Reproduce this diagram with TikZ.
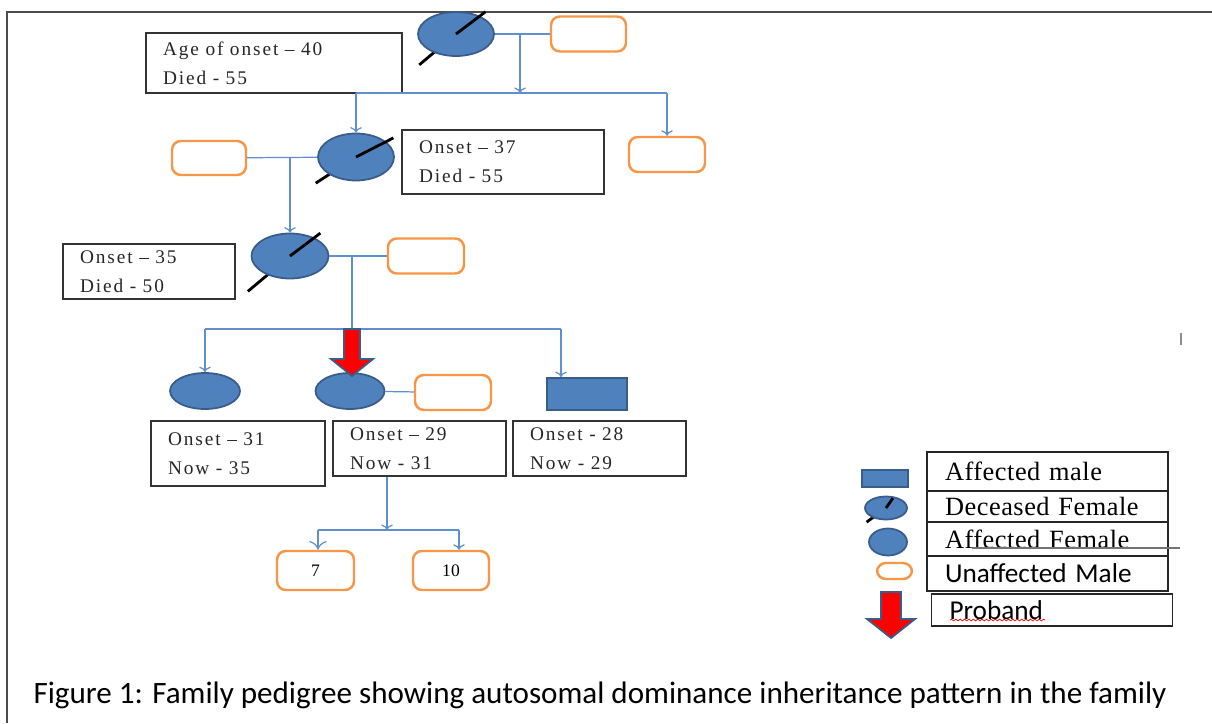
\documentclass[tikz,border=0pt]{standalone}
\usepackage{fontspec}
\setmainfont{Liberation Serif}
\newfontfamily\infofont[LetterSpace=10]{Liberation Serif}
\newfontfamily\legfont[LetterSpace=2]{Liberation Serif}
\newfontfamily\capfont{Carlito}
\usetikzlibrary{arrows,arrows.meta,shapes}
\usetikzlibrary{calc}
\usetikzlibrary{decorations.pathmorphing}
\definecolor{affblue}{RGB}{79,129,189}
\definecolor{affborder}{RGB}{56,93,138}
\definecolor{unafforange}{RGB}{247,150,70}
\definecolor{linkblue}{RGB}{96,143,207}
\tikzstyle{female}=[ellipse,fill=affblue,draw=affborder,line width=1pt,inner sep=0pt]
\tikzstyle{male}=[rectangle,fill=affblue,draw=affborder,line width=1pt,inner sep=0pt]
\tikzstyle{unaffected}=[rectangle,rounded corners=5pt,draw=unafforange,line width=1.4pt,fill=white,inner sep=0pt,font=\fontsize{10}{12}\selectfont]
\tikzstyle{info}=[rectangle,draw=black!80,line width=0.9pt,align=left,inner xsep=0.34cm,inner ysep=0pt,text=black!85,font=\infofont\fontsize{11}{16.4}\selectfont]
\tikzstyle{legend}=[rectangle,draw=black!85,line width=0.9pt,align=left,inner xsep=0.36cm,inner ysep=0pt]
\tikzstyle{edge} = [draw,->,linkblue,line width=0.7pt]
\tikzstyle{link} = [draw,linkblue,line width=0.7pt]
\tikzstyle{slash} = [draw,black,line width=1.6pt]
\tikzstyle{proband} = [fill=red,draw=affborder,line width=1pt]

\begin{document}
\begin{tikzpicture}[x=0.02cm,y=0.02cm]
    \useasboundingbox (0,0) rectangle (1212,-723);
    \draw[black!70,line width=1.1pt] (7,-723) -- (7,-12) -- (1212,-12);

    % deceased females, the slash half behind the shape
    \foreach \pos/\name/\w/\h/\a/\ra/\b/\rb in {{(456,-34)/g1/1.52/0.88/37/37/220/48},
        {(356,-157)/g2/1.52/0.94/27/42/213/48}, {(290,-256)/g3/1.54/0.90/37/38/220/55},
        {(886,-508)/ld/0.84/0.46/55/12/216/24}} {
        \draw[slash] \pos ++(\b:\rb) -- \pos;
        \node[female,minimum width=\w cm,minimum height=\h cm] (\name) at \pos {};
        \draw[slash] (\name.center) -- +(\a:\ra);
    }

    % affected females and males
    \foreach \pos/\name/\w/\h in {{(205,-391)/d1/1.40/0.72},{(350,-391)/d2/1.38/0.72},{(888,-542)/lf/0.76/0.54}}
        \node[female,minimum width=\w cm,minimum height=\h cm] (\name) at \pos {};
    \foreach \pos/\name/\w/\h in {{(587,-394)/d3/1.60/0.64},{(885,-478.5)/lm/0.92/0.34}}
        \node[male,minimum width=\w cm,minimum height=\h cm] (\name) at \pos {};

    % unaffected males
    \foreach \pos/\name/\w/\h/\txt in {{(588.5,-34)/u1/1.50/0.70/}, {(667,-154.5)/u2/1.52/0.70/},
        {(209,-158)/u3/1.48/0.68/}, {(426,-256)/u4/1.52/0.70/}, {(453,-392.5)/u5/1.52/0.70/},
        {(315.5,-570.5)/k1/1.54/0.78/7}, {(451,-570.5)/k2/1.52/0.78/10}, {(894.5,-571)/lu/0.70/0.32/}}
        \node[unaffected,minimum width=\w cm,minimum height=\h cm] (\name) at \pos {\txt};

    % ages
    \foreach \pos/\name/\w/\tw/\h/\txt in {{(274,-63)/i1/5.12/4.44/1.20/{Age of onset – 40\\Died - 55}},
        {(503,-162)/i2/4.04/3.36/1.28/{Onset – 37\\Died - 55}},
        {(149,-271.5)/i3/3.44/2.76/1.10/{Onset – 35\\Died - 50}},
        {(238,-453.5)/i4/3.48/2.80/1.30/{Onset – 31\\Now - 35}},
        {(419.5,-448.5)/i5/3.46/2.78/1.10/{Onset – 29\\Now - 31}},
        {(599.5,-448.5)/i6/3.46/2.78/1.10/{Onset - 28\\Now - 29}}}
        \node[info,minimum width=\w cm,text width=\tw cm,minimum height=\h cm] (\name) at \pos {\txt};

    % marriages and descent lines
    \coordinate (c1) at (520,-34);
    \coordinate (s1) at (520,-93);
    \path[link] (g1) -- (u1);
    \path[edge] (c1) -- (s1);
    \path[link] (g2 |- s1) -- (u2 |- s1);
    \path[edge] (g2 |- s1) -- (g2);
    \path[edge] (u2 |- s1) -- (u2);

    \coordinate (c2) at (290,-158);
    \path[link] (u3) -- (g2);
    \path[edge] (c2) -- (g3);

    \coordinate (c3) at (352,-256);
    \coordinate (s3) at (352,-329);
    \coordinate (s3r) at (561,-329);
    \path[link] (g3) -- (u4);
    \path[link] (c3) -- (s3);
    \path[link] (d1 |- s3) -- (s3r);
    \path[edge] (d1 |- s3) -- (d1);
    \path[edge] (s3r) -- (s3r |- d3.north);
    \path[link] (d2) -- (u5);

    \coordinate (s5) at (387,-530);
    \coordinate (s5l) at (318,-530);
    \coordinate (s5r) at (459,-530);
    \path[edge] (s5 |- i5.south) -- (s5);
    \path[link] (s5l) -- (s5r);
    \path[link,-{To[length=5pt,width=10pt]}] (s5l) -- (s5l |- k1.north);
    \path[edge] (s5r) -- (s5r |- k2.north);

    % proband arrows
    \draw[proband] (s3) ++(-8,0) -- ++(16,0) -- ++(0,-30) -- ++(13,0) -- ++(-21,-17) -- ++(-21,17) -- ++(13,0) -- cycle;
    \draw[proband] (891,-592) ++(-10,0) -- ++(20,0) -- ++(0,-27) -- ++(14,0) -- ++(-24,-19) -- ++(-24,19) -- ++(14,0) -- cycle;

    % legend
    \foreach \pos/\name/\h/\txt in {{(1047.5,-471.5)/l1/0.78/{\legfont Affected male}},
        {(1047.5,-506.5)/l2/0.62/{\legfont Deceased Female}},
        {(1047.5,-539)/l3/0.68/{\legfont Affected Female}},
        {(1047.5,-573.5)/l4/0.70/{\capfont\fontsize{15.5}{16}\selectfont Unaffected Male}},
        {(1052,-610)/l5/0.64/{\capfont\fontsize{15.5}{16}\selectfont Proband}}}
        \node[legend,minimum width=4.82cm,text width=4.1cm,minimum height=\h cm,font=\fontsize{15}{16}\selectfont] (\name) at \pos {\txt};
    \draw[black!55,line width=0.6pt] (972,-548) -- (1180,-548);
    \draw[red,line width=0.4pt,decorate,decoration={snake,amplitude=0.5pt,segment length=2.5pt}] (950,-620) -- (1045,-620);
    \draw[black!45,line width=1pt] (1181,-333) -- (1181,-345);

    \node[font=\capfont\fontsize{17.7}{20}\selectfont] (cap) at (600,-695)
        {Figure 1: Family pedigree showing autosomal dominance inheritance pattern in the family};
\end{tikzpicture}
\end{document}
